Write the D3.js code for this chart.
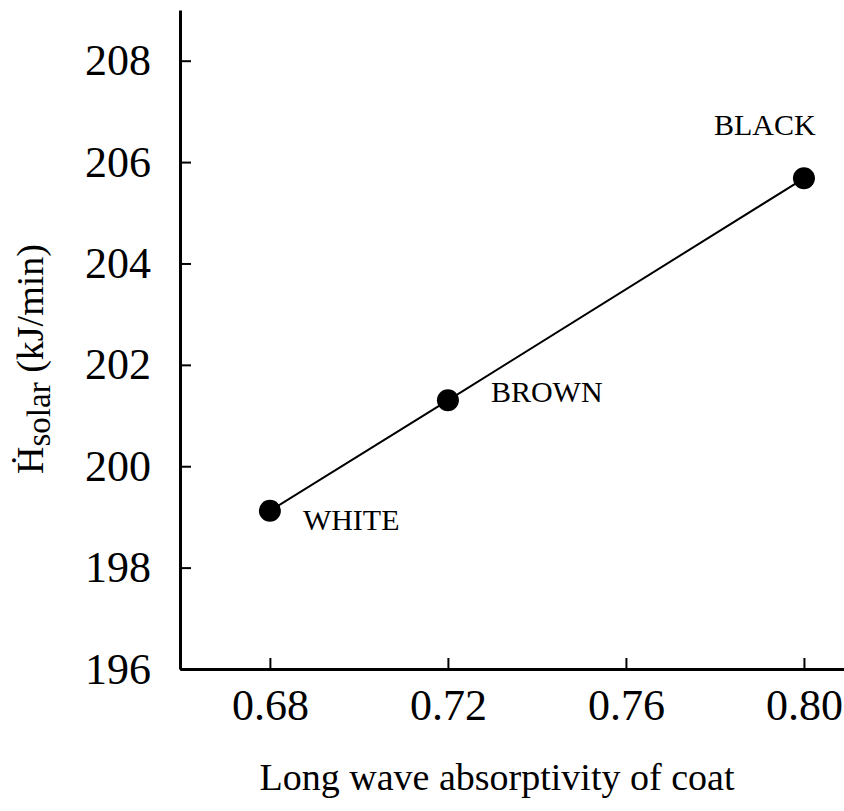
<!DOCTYPE html>
<html>
<head>
<meta charset="utf-8">
<script src="https://cdn.jsdelivr.net/npm/d3@7"></script>
<style>
  body { margin: 0; background: #fff; }
  svg text { font-family: "Liberation Serif", "Times New Roman", serif; fill: #000; }
</style>
</head>
<body>
<svg width="844" height="811"></svg>
<script>
// Data
const coats = ["WHITE", "BROWN", "BLACK"];
const absorptivity = [0.68, 0.72, 0.80];
const hSolar = [199.12, 201.3, 205.68];
const xTicks = [0.68, 0.72, 0.76, 0.80];
const yTicks = [196, 198, 200, 202, 204, 206, 208];

const svg = d3.select("svg");
const margin = { top: 10, right: 0, bottom: 142, left: 180 };
const width = 844 - margin.left - margin.right;
const height = 811 - margin.top - margin.bottom;

const x = d3.scaleLinear().domain([0.6598, 0.809]).range([0, width]);
const y = d3.scaleLinear().domain([196, 209]).range([height, 0]);

const g = svg.append("g").attr("transform", `translate(${margin.left},${margin.top})`);

// Axes, ticks pointing inward
const xAxis = g.append("g")
    .attr("transform", `translate(0,${height})`)
    .call(d3.axisBottom(x).tickValues(xTicks).tickSize(-11).tickPadding(20).tickSizeOuter(0)
        .tickFormat(d3.format(".2f")));
const yAxis = g.append("g")
    .call(d3.axisLeft(y).tickValues(yTicks).tickSize(-11).tickPadding(29).tickSizeOuter(0)
        .tickFormat(d3.format("d")));

[xAxis, yAxis].forEach(a => {
    a.attr("font-family", null).attr("font-size", null);
    a.select(".domain").attr("stroke", "#000").attr("stroke-width", 3);
    a.selectAll(".tick line").attr("stroke", "#000").attr("stroke-width", 2);
    a.selectAll(".tick text").style("font-size", "44px");
});
xAxis.selectAll(".tick text").attr("dy", "0.71em");

// Line through the points
const pts = coats.map((c, i) => ({ name: c, x: absorptivity[i], y: hSolar[i] }));
g.append("path")
    .datum(pts)
    .attr("fill", "none")
    .attr("stroke", "#000")
    .attr("stroke-width", 2)
    .attr("d", d3.line().x(d => x(d.x)).y(d => y(d.y)));

g.selectAll("circle.pt")
    .data(pts)
    .join("circle")
    .attr("class", "pt")
    .attr("cx", d => x(d.x))
    .attr("cy", d => y(d.y))
    .attr("r", 11)
    .attr("fill", "#000");

// Point labels
const labelOffset = { WHITE: [33, 19], BROWN: [43, 2], BLACK: [-90, -43] };
g.selectAll("text.lbl")
    .data(pts)
    .join("text")
    .attr("class", "lbl")
    .attr("x", d => x(d.x) + labelOffset[d.name][0])
    .attr("y", d => y(d.y) + labelOffset[d.name][1])
    .style("font-size", "30px")
    .text(d => d.name);

// Axis titles
svg.append("text")
    .attr("x", 497)
    .attr("y", 790)
    .attr("text-anchor", "middle")
    .style("font-size", "38px")
    .text("Long wave absorptivity of coat");

const yt = svg.append("text")
    .attr("transform", "translate(43,359) rotate(-90)")
    .attr("text-anchor", "middle")
    .style("font-size", "38px");
yt.append("tspan").text("Ḣ");
yt.append("tspan").attr("dy", 7).style("font-size", "33px").text("solar");
yt.append("tspan").attr("dy", -7).text(" (kJ/min)");
</script>
</body>
</html>
